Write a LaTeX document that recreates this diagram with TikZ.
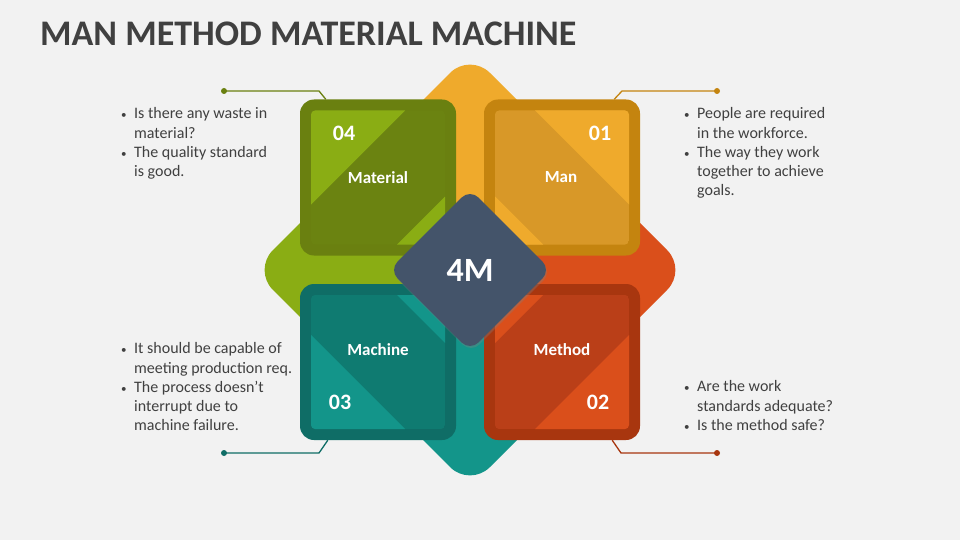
\documentclass[tikz,border=0pt]{standalone}
\usepackage{fontspec}
\setmainfont{Carlito}
\usepackage{xcolor}
\usetikzlibrary{positioning, calc, shapes.geometric, shadows}

\definecolor{bgGrey}{HTML}{F2F2F2}
\definecolor{txtGrey}{HTML}{404040}
\definecolor{slate}{HTML}{44546A}
\definecolor{manLight}{HTML}{EFAA2C}
\definecolor{manBand}{HTML}{D89828}
\definecolor{manDark}{HTML}{C4840F}
\definecolor{metLight}{HTML}{DA4F1B}
\definecolor{metBand}{HTML}{BA3F18}
\definecolor{metDark}{HTML}{A8360F}
\definecolor{macLight}{HTML}{13958A}
\definecolor{macBand}{HTML}{0F7B71}
\definecolor{macDark}{HTML}{0F6D66}
\definecolor{matLight}{HTML}{8AAD14}
\definecolor{matBand}{HTML}{6B8311}
\definecolor{matDark}{HTML}{6A8010}

\newcommand{\bul}{{\fontsize{11}{11}\selectfont\textbullet}}

\begin{document}
\begin{tikzpicture}[x=1pt, y=-1pt,
	card/.style={minimum size=156pt, rounded corners=14pt, inner sep=0pt},
	cardnum/.style={text=white, font=\bfseries\fontsize{22}{22}\selectfont},
	cardtext/.style={text=white, font=\bfseries\fontsize{17}{17}\selectfont},
	hub/.style={diamond, fill=slate, minimum size=162pt, inner sep=0pt, rounded corners=12pt,
		text=white, font=\bfseries\fontsize{34}{34}\selectfont,
		drop shadow={shadow xshift=1pt, shadow yshift=-2pt, opacity=0.35}},
	bullets/.style={anchor=north west, inner sep=0pt, text=txtGrey, font=\fontsize{16}{19.3}\selectfont},
	lead/.style={line width=1.3pt}
	]
	\fill[bgGrey] (0,0) rectangle (960,540);
	\useasboundingbox (0,0) rectangle (960,540);
	
	% title
	\node[anchor=base west, inner sep=0pt, text=txtGrey, font=\bfseries\fontsize{36}{36}\selectfont]
		(title) at (40,46) {MAN METHOD MATERIAL MACHINE};
	
	% big diamond in four parts
	\fill[manLight, rounded corners=28pt] (470,53) -- (578.5,161.5) -- (470,270) -- (361.5,161.5) -- cycle;
	\fill[metLight, rounded corners=28pt] (687,270) -- (578.5,378.5) -- (470,270) -- (578.5,161.5) -- cycle;
	\fill[macLight, rounded corners=28pt] (470,487) -- (361.5,378.5) -- (470,270) -- (578.5,378.5) -- cycle;
	\fill[matLight, rounded corners=28pt] (253,270) -- (361.5,161.5) -- (470,270) -- (361.5,378.5) -- cycle;
	
	% cards
	\foreach \name/\cx/\cy/\sx/\sy/\col in {material/378/177.5/1/1/mat, man/562/177.5/-1/1/man,
		machine/378/362/1/-1/mac, method/562/362/-1/-1/met}{
		\node[card, fill=\col Dark] (\name) at (\cx,\cy) {};
		\begin{scope}[shift={(\cx,\cy)}, xscale=\sx, yscale=\sy]
			\clip[rounded corners=4pt] (-67,-67) rectangle (67,67);
			\fill[\col Band] (-67,-67) rectangle (67,67);
			\fill[\col Light] (-67,-67) -- (27,-67) -- (-67,27) -- cycle;
			\fill[\col Light] (67,19) -- (67,67) -- (19,67) -- cycle;
		\end{scope}
	}
	
	% leader lines
	\coordinate (matdot) at (224,91);
	\coordinate (mandot) at (717,91);
	\coordinate (macdot) at (224,453);
	\coordinate (metdot) at (717,453);
	\draw[lead, matDark] (matdot) -- ++(95,0) -- ($(material.north west)+(26,0)$);
	\draw[lead, manDark] (mandot) -- ++(-95,0) -- ($(man.north east)+(-26,0)$);
	\draw[lead, macDark] (macdot) -- ++(95,0) -- ($(machine.south west)+(28,0)$);
	\draw[lead, metDark] (metdot) -- ++(-96,0) -- ($(method.south east)+(-28,0)$);
	\fill[matDark] (matdot) circle (3pt);
	\fill[manDark] (mandot) circle (3pt);
	\fill[macDark] (macdot) circle (3pt);
	\fill[metDark] (metdot) circle (3pt);
	
	% card texts
	\node[cardnum] at ($(material)+(-34,-44.5)$) {04};
	\node[cardnum] at ($(man)+(38,-44.5)$) {01};
	\node[cardnum] at ($(machine)+(-38,40)$) {03};
	\node[cardnum] at ($(method)+(36,40)$) {02};
	\node[cardtext] at ($(material)+(0,0)$) {Material};
	\node[cardtext] at ($(man)+(-1,0)$) {Man};
	\node[cardtext] at ($(machine)+(0,-12)$) {Machine};
	\node[cardtext] at ($(method)+(0,-12)$) {Method};
	
	% centre
	\node[hub] (hub) at (470,270) {4M};
	
	% bullet texts
	\node[bullets] (mattext) at (121,105) {\begin{tabular}{@{}l@{\hspace{7.5pt}}l@{}}
		\bul & Is there any waste in\\ & material?\\
		\bul & The quality standard\\ & is good.\end{tabular}};
	\node[bullets] (mantext) at (684,105) {\begin{tabular}{@{}l@{\hspace{7.5pt}}l@{}}
		\bul & People are required\\ & in the workforce.\\
		\bul & The way they work\\ & together to achieve\\ & goals.\end{tabular}};
	\node[bullets] (mactext) at (121,340) {\begin{tabular}{@{}l@{\hspace{7.5pt}}l@{}}
		\bul & It should be capable of\\ & meeting production req.\\
		\bul & The process doesn’t\\ & interrupt due to\\ & machine failure.\end{tabular}};
	\node[bullets] (mettext) at (684,378) {\begin{tabular}{@{}l@{\hspace{7.5pt}}l@{}}
		\bul & Are the work\\ & standards adequate?\\
		\bul & Is the method safe?\end{tabular}};
\end{tikzpicture}
\end{document}
